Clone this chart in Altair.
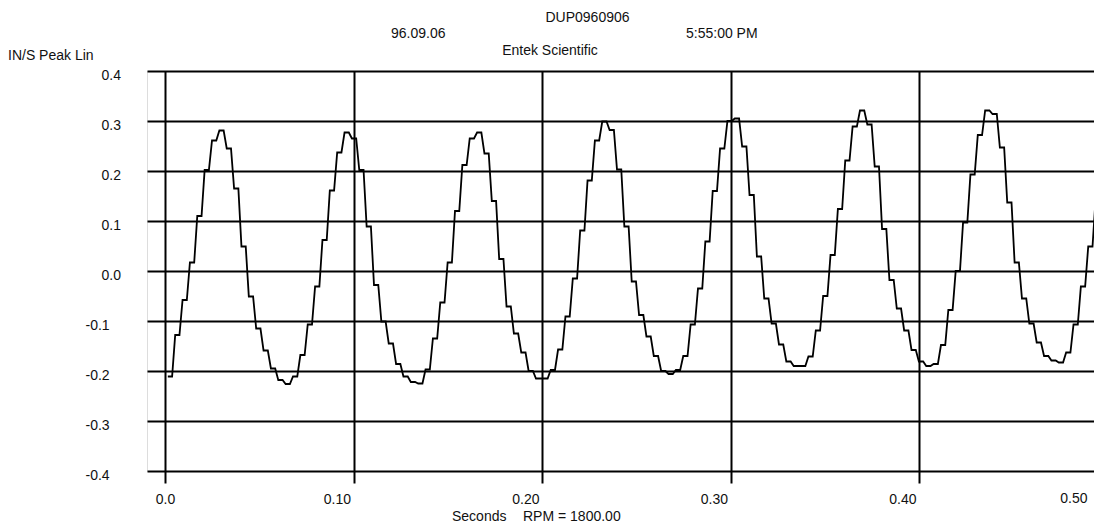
import json
import altair as alt
import pandas as pd

# ---- texts ----
title_id = "DUP0960906"
title_date = "96.09.06"
title_time = "5:55:00 PM"
title_company = "Entek Scientific"
y_title = "IN/S Peak Lin"
x_title = "Seconds"
x_note = "RPM = 1800.00"

# ---- axis ticks ----
y_ticks = [0.4, 0.3, 0.2, 0.1, 0.0, -0.1, -0.2, -0.3, -0.4]
y_tick_labels = ["0.4", "0.3", "0.2", "0.1", "0.0", "-0.1", "-0.2", "-0.3", "-0.4"]
x_ticks = [0.0, 0.1, 0.2, 0.3, 0.4]
x_tick_labels = ["0.0", "0.10", "0.20", "0.30", "0.40"]
x_last_tick = [0.5]
x_last_label = ["0.50"]

# ---- waveform samples (IN/S), 128 samples over 0.5 s ----
sample_start = 0.0015
sample_interval = 0.5 / 128
values = [
    -0.211, -0.128, -0.058, 0.017, 0.110, 0.202, 0.261, 0.281,
    0.245, 0.165, 0.049, -0.051, -0.115, -0.159, -0.195, -0.218,
    -0.226, -0.211, -0.168, -0.107, -0.031, 0.062, 0.161, 0.237,
    0.277, 0.265, 0.202, 0.089, -0.028, -0.101, -0.145, -0.186,
    -0.211, -0.222, -0.225, -0.197, -0.135, -0.063, 0.017, 0.120,
    0.212, 0.265, 0.277, 0.235, 0.140, 0.024, -0.071, -0.125,
    -0.163, -0.200, -0.215, -0.215, -0.198, -0.157, -0.091, -0.015,
    0.081, 0.181, 0.261, 0.299, 0.282, 0.203, 0.089, -0.021,
    -0.088, -0.131, -0.170, -0.200, -0.206, -0.198, -0.170, -0.107,
    -0.035, 0.059, 0.160, 0.245, 0.300, 0.305, 0.249, 0.152,
    0.029, -0.055, -0.105, -0.147, -0.181, -0.190, -0.190, -0.171,
    -0.119, -0.050, 0.032, 0.124, 0.221, 0.289, 0.321, 0.293,
    0.209, 0.084, -0.018, -0.075, -0.119, -0.158, -0.181, -0.190,
    -0.186, -0.148, -0.078, 0.000, 0.097, 0.193, 0.272, 0.321,
    0.314, 0.247, 0.137, 0.017, -0.055, -0.105, -0.143, -0.170,
    -0.179, -0.183, -0.163, -0.107, -0.031, 0.049, 0.145, 0.290,
]

# sample-and-hold display: each sample is held for part of the interval
hold = 0.58
rows = []
for i, v in enumerate(values):
    t = sample_start + i * sample_interval
    rows.append({"t": t, "v": v, "k": 2 * i})
    rows.append({"t": t + hold * sample_interval, "v": v, "k": 2 * i + 1})
wave = pd.DataFrame(rows)

FONT = "Liberation Sans"
FS = 14
INK = "#111111"

W, H = 947, 400
PX_PER_S = 1885.0
X0 = -0.00955
x_scale = alt.Scale(domain=[X0, X0 + W / PX_PER_S], nice=False, zero=False)
y_scale = alt.Scale(domain=[-0.4, 0.4], nice=False, zero=False)

x_axis = alt.Axis(
    values=x_ticks,
    labelExpr=f"{json.dumps(x_tick_labels)}[round(datum.value * 10)]",
    grid=True, gridColor="black", gridWidth=2,
    ticks=True, tickColor="black", tickWidth=2, tickSize=12,
    domain=False, title=None, labelFlush=False,
    labelAlign={"condition": {"test": "datum.value == 0", "value": "center"}, "value": "right"},
    labelOffset={"condition": {"test": "datum.value == 0", "value": 0}, "value": -3},
    labelBaseline="alphabetic", labelPadding=20,
    labelFont=FONT, labelFontSize=FS, labelColor=INK,
)
y_axis = alt.Axis(
    values=y_ticks,
    labelExpr=f"{json.dumps(y_tick_labels)}[round((0.4 - datum.value) * 10)]",
    grid=True, gridColor="black", gridWidth=2,
    ticks=False, domain=False, title=None,
    labelAlign="left", labelBaseline="alphabetic", labelOffset=8.5,
    labelPadding={"condition": {"test": "datum.value < 0", "value": 62}, "value": 46},
    labelFont=FONT, labelFontSize=FS, labelColor=INK, labelFlush=False,
)

line = alt.Chart(wave).mark_line(color="black", strokeWidth=1.8, clip=True).encode(
    x=alt.X("t:Q", scale=x_scale, axis=x_axis),
    y=alt.Y("v:Q", scale=y_scale, axis=y_axis),
    order="k:Q",
)

last_label = alt.Chart(pd.DataFrame({"t": x_last_tick, "lab": x_last_label})).mark_text(
    font=FONT, fontSize=FS, color=INK, align="right", baseline="alphabetic", dx=-20
).encode(x=alt.X("t:Q", scale=x_scale), y=alt.value(H + 32), text="lab:N")


def label(txt, x, y, align="left"):
    return alt.Chart(pd.DataFrame({"lab": [txt]})).mark_text(
        font=FONT, fontSize=FS, color=INK, align=align, baseline="alphabetic"
    ).encode(x=alt.value(x), y=alt.value(y), text="lab:N")


texts = [
    label(title_id, 440.5, -49.3, "center"),
    label(title_date, 244, -32.7),
    label(title_time, 539, -32.7),
    label(title_company, 403, -16, "center"),
    label(y_title, -139, -11),
    label(x_title, 305, 450),
    label(x_note, 376, 450),
]

chart = alt.layer(line, last_label, *texts).properties(
    width=W, height=H,
    autosize=alt.AutoSizeParams(type="none"),
    padding={"left": 139, "top": 63, "right": 0, "bottom": 53},
).configure_view(stroke=None).configure(background="white")

chart.save("out.html", embed_options={"renderer": "svg", "actions": False})
